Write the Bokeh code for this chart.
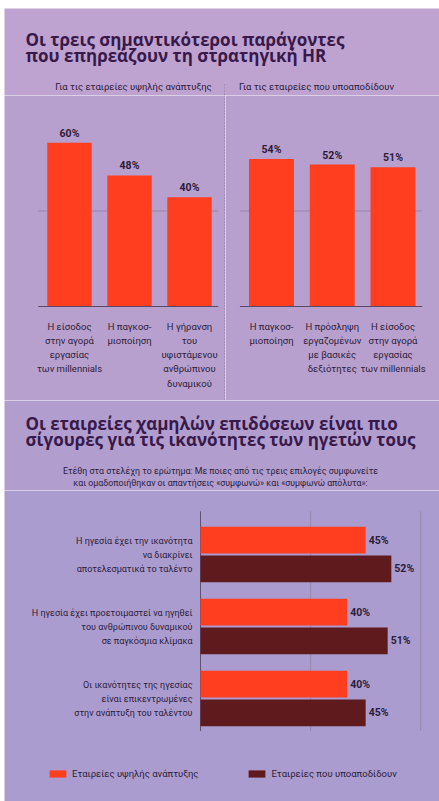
from bokeh.plotting import figure
from bokeh.layouts import column, row
from bokeh.models import Range1d, Legend, LegendItem, Span
from bokeh.core.properties import value
from bokeh.embed import file_html
from bokeh.resources import INLINE

# ---------------- data ----------------
title_top = ["Οι τρεις σημαντικότεροι παράγοντες", "που επηρεάζουν τη στρατηγική HR"]
panel_titles = ["Για τις εταιρείες υψηλής ανάπτυξης", "Για τις εταιρείες που υποαποδίδουν"]

high_growth_factors = ["Η είσοδος\nστην αγορά\nεργασίας\nτων millennials",
                       "Η παγκοσ-\nμιοποίηση",
                       "Η γήρανση\nτου\nυφιστάμενου\nανθρώπινου\nδυναμικού"]
high_growth_values = [60, 48, 40]

under_factors = ["Η παγκοσ-\nμιοποίηση",
                 "Η πρόσληψη\nεργαζομένων\nμε βασικές\nδεξιότητες",
                 "Η είσοδος\nστην αγορά\nεργασίας\nτων millennials"]
under_values = [54, 52, 51]

title_bottom = ["Οι εταιρείες χαμηλών επιδόσεων είναι πιο",
                "σίγουρες για τις ικανότητες των ηγετών τους"]
question = ["Ετέθη στα στελέχη το ερώτημα: Με ποιες από τις τρεις επιλογές συμφωνείτε",
            "και ομαδοποιήθηκαν οι απαντήσεις «συμφωνώ» και «συμφωνώ απόλυτα»:"]

statements = ["Η ηγεσία έχει την ικανότητα\nνα διακρίνει\nαποτελεσματικά το ταλέντο",
              "Η ηγεσία έχει προετοιμαστεί να ηγηθεί\nτου ανθρώπινου δυναμικού\nσε παγκόσμια κλίμακα",
              "Οι ικανότητες της ηγεσίας\nείναι επικεντρωμένες\nστην ανάπτυξη του ταλέντου"]
high_growth_agree = [45, 40, 40]
under_agree = [52, 51, 45]
series_names = ["Εταιρείες υψηλής ανάπτυξης", "Εταιρείες που υποαποδίδουν"]

# ---------------- style ----------------
ORANGE = "#ff3d1f"
DARK = "#5e1a1c"
TITLE_C = "#38194a"
TEXT_C = "#2c1c3a"
GRID_C = "#8a7a98"
HEAD_FONT_NAME = "Open Sans"
BODY_FONT_NAME = "Roboto"
HEAD_FONT = value(HEAD_FONT_NAME)
BODY = value(BODY_FONT_NAME)


def make_fig(w, h, xr, yr, bg, ml=0, mt=0):
    p = figure(width=w, height=h, x_range=xr, y_range=yr, output_backend="svg",
               toolbar_location=None, x_axis_location=None, y_axis_location=None,
               min_border=0, min_border_left=ml, min_border_top=mt,
               min_border_right=0, min_border_bottom=0)
    p.grid.visible = False
    p.outline_line_color = None
    p.background_fill_color = bg
    p.border_fill_color = "white"
    return p


# ---------------- header ----------------
head = make_fig(439, 95, Range1d(4, 439), Range1d(95, 8), "#bea2d0", ml=4, mt=8)
head.text(x=[25, 25], y=[39, 55], text=title_top, text_font=HEAD_FONT,
          text_font_style="bold", text_font_size="17px", text_color=TITLE_C,
          text_baseline="alphabetic", text_align="left")
head.text(x=[133, 316], y=[86, 86], text=panel_titles, text_font=BODY,
          text_font_size="9.5px", text_color=TEXT_C, text_baseline="alphabetic",
          text_align="center")
head.segment(x0=[224], y0=[84], x1=[224], y1=[95], line_color=GRID_C,
             line_dash="1 2", line_width=1)

# ---------------- vertical bar panels ----------------
PX_PER_PCT = 2.73
Y_TOP = 211 / PX_PER_PCT
Y_BOT = -(305 - 211) / PX_PER_PCT


def vpanel(w, ml, xr, factors, values, bg):
    p = make_fig(w, 305, xr, Range1d(Y_BOT, Y_TOP), bg, ml=ml)
    idx = list(range(len(values)))
    p.segment(x0=[-0.52], x1=[len(values) - 0.52], y0=[35], y1=[35],
              line_color=GRID_C, line_alpha=0.7, line_width=1)
    p.vbar(x=idx, top=values, bottom=0, width=0.74, fill_color=ORANGE,
           line_color=None)
    p.segment(x0=[-0.52], x1=[len(values) - 0.52], y0=[0], y1=[0],
              line_color="#5a4a66", line_width=1)
    p.text(x=idx, y=values, text=[f"{v}%" for v in values], y_offset=-3,
           text_font=BODY, text_font_style="bold", text_font_size="10.5px",
           text_color=TEXT_C, text_align="center", text_baseline="bottom")
    p.text(x=idx, y=[0] * len(values), text=factors, y_offset=14,
           text_font=BODY, text_font_size="9.5px", text_color=TEXT_C,
           text_align="center", text_baseline="top", text_line_height=1.3)
    return p


left = vpanel(225, 4, Range1d(-65 / 60, -65 / 60 + 221 / 60), high_growth_factors,
              high_growth_values, "#b8a0ce")
left.add_layout(Span(location=-65 / 60 + 220 / 60, dimension="height",
                     line_color=GRID_C, line_dash="1 2", line_width=1))
right = vpanel(214, 0, Range1d(-46 / 60.75, -46 / 60.75 + 214 / 60.75), under_factors,
               under_values, "#b8a0ce")

# ---------------- middle header ----------------
mid = make_fig(439, 90, Range1d(4, 439), Range1d(490, 400), "#b19ecf", ml=4)
mid.text(x=[25, 25], y=[423, 439], text=title_bottom, text_font=HEAD_FONT,
         text_font_style="bold", text_font_size="17px", text_color=TITLE_C,
         text_baseline="alphabetic", text_align="left")
mid.text(x=[220, 220], y=[470, 482], text=question, text_font=BODY,
         text_font_size="8.8px", text_color=TEXT_C, text_baseline="alphabetic",
         text_align="center")

# ---------------- horizontal bars ----------------
HPX = 3.67
bottom = make_fig(439, 311, Range1d(-196 / HPX, 239 / HPX),
                  Range1d((311 - 64) / 72, -64 / 72), "#ab9cd0", ml=4)
n = len(statements)
yi = list(range(n))
for gx, gc, ga in [(0, "#5a4a66", 0.9), (30, GRID_C, 0.6), (60, GRID_C, 0.6)]:
    bottom.segment(x0=[gx], x1=[gx], y0=[-0.6], y1=[n - 0.55], line_color=gc,
                   line_alpha=ga, line_width=1)
r1 = bottom.hbar(y=[i - 0.2 for i in yi], left=0, right=high_growth_agree,
                 height=0.37, fill_color=ORANGE, line_color=None)
r2 = bottom.hbar(y=[i + 0.2 for i in yi], left=0, right=under_agree,
                 height=0.37, fill_color=DARK, line_color=None)
bottom.text(x=high_growth_agree, y=[i - 0.2 for i in yi],
            text=[f"{v}%" for v in high_growth_agree], x_offset=3,
            text_font=BODY, text_font_style="bold", text_font_size="10.5px",
            text_color=TEXT_C, text_align="left", text_baseline="middle")
bottom.text(x=under_agree, y=[i + 0.2 for i in yi],
            text=[f"{v}%" for v in under_agree], x_offset=3,
            text_font=BODY, text_font_style="bold", text_font_size="10.5px",
            text_color=TEXT_C, text_align="left", text_baseline="middle")
bottom.text(x=[0] * n, y=yi, text=statements, x_offset=-8, text_font=BODY,
            text_font_size="9px", text_color=TEXT_C, text_align="right",
            text_baseline="middle", text_line_height=1.4)

legend = Legend(items=[LegendItem(label=series_names[0], renderers=[r1]),
                       LegendItem(label=series_names[1], renderers=[r2])],
                orientation="horizontal", location=(43, 22), glyph_width=21,
                glyph_height=9, label_height=9, label_standoff=4, spacing=48,
                padding=0, margin=0, border_line_color=None,
                background_fill_alpha=0, label_text_font=BODY_FONT_NAME,
                label_text_font_size="9.5px", label_text_color=TEXT_C)
bottom.add_layout(legend)

layout = column(head, row(left, right), mid, bottom)
open("out.html", "w").write(file_html(layout, INLINE))
